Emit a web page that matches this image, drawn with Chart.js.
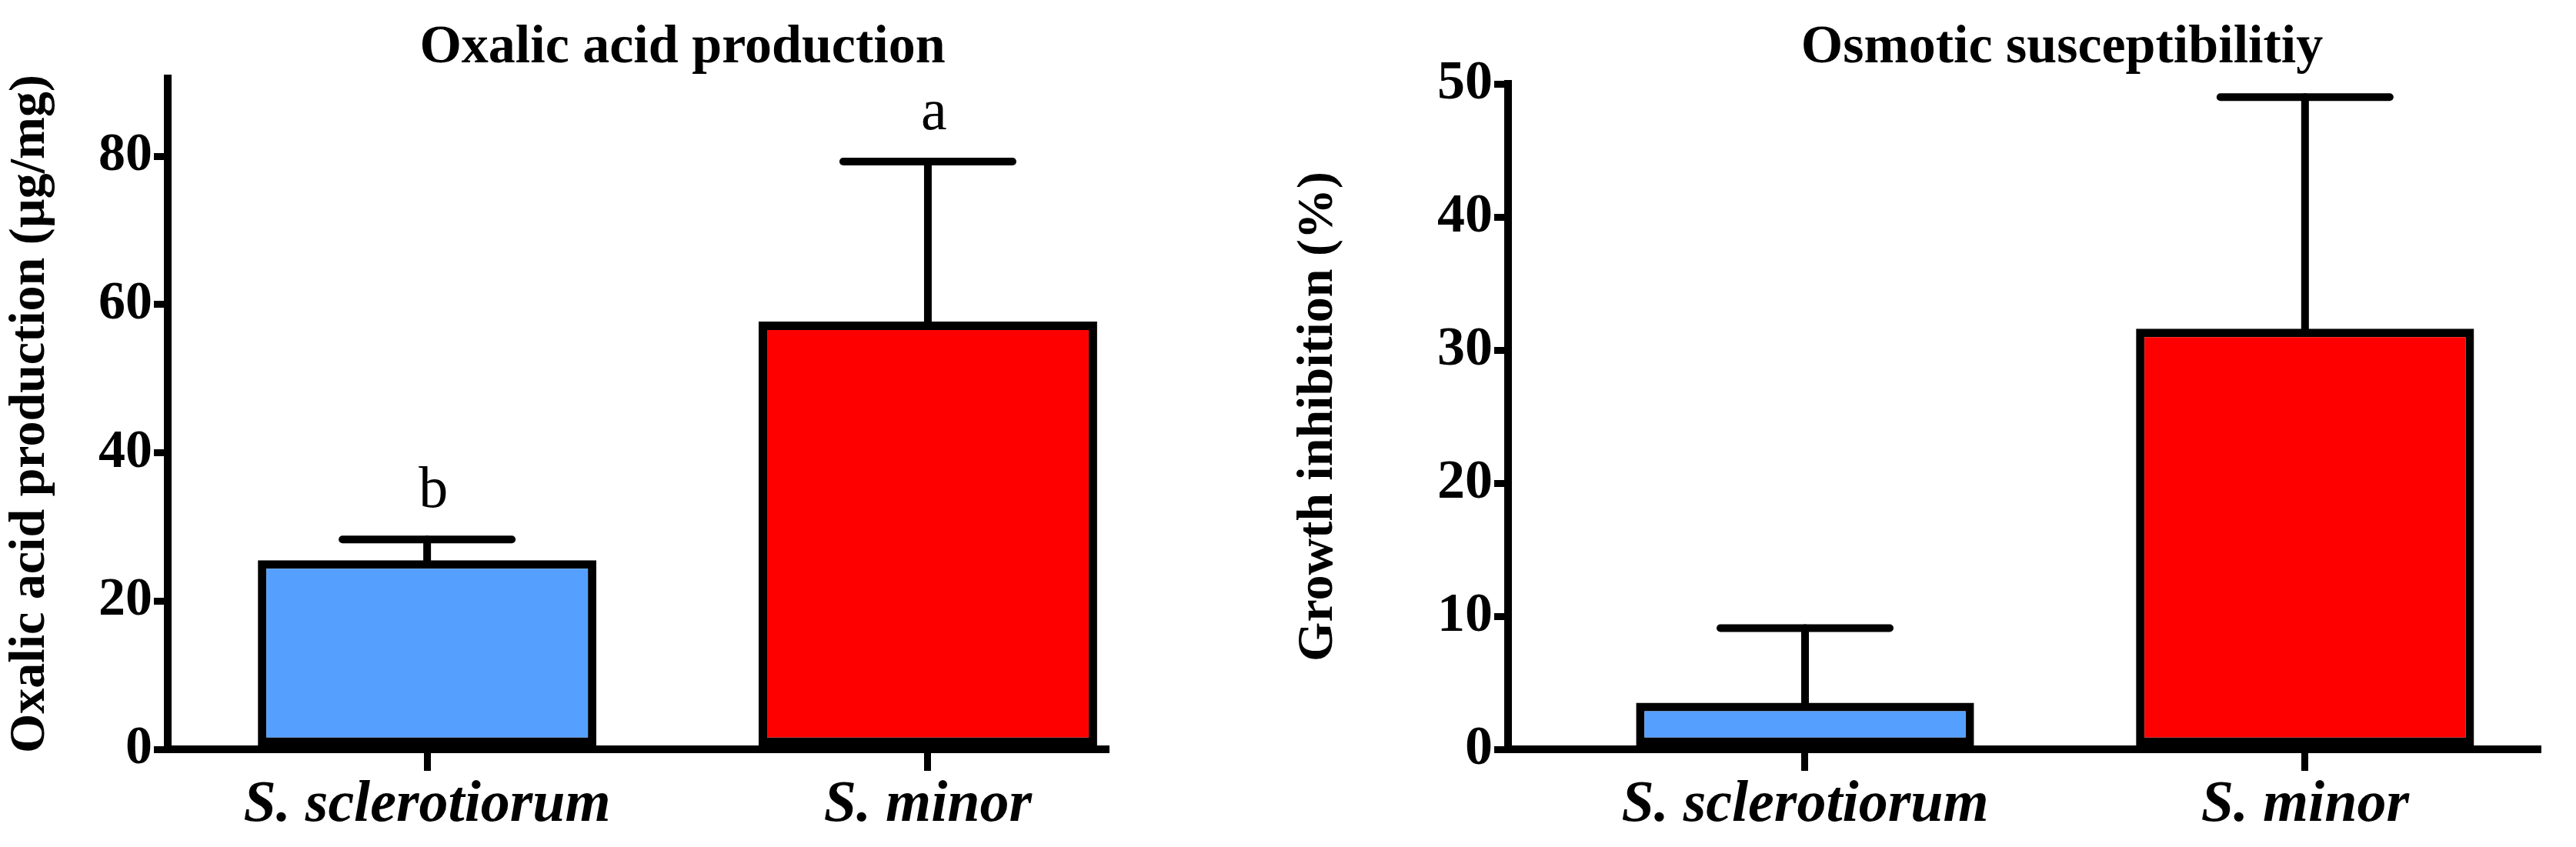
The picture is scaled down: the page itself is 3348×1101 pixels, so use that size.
<!DOCTYPE html>
<html><head><meta charset="utf-8">
<script src="https://cdn.jsdelivr.net/npm/chart.js@4"></script>
<style>
html,body{margin:0;padding:0;background:#fff;width:3348px;height:1101px;overflow:hidden}
.w{position:absolute;top:0;width:1674px;height:1101px}
.t{position:absolute;top:18px;font:bold 70px "Liberation Serif";color:#000;white-space:nowrap;transform:translateX(-50%)}
</style></head><body>
<div class="w" style="left:0"><canvas id="c1" width="1674" height="1101"></canvas></div>
<div class="w" style="left:1674px"><canvas id="c2" width="1674" height="1101"></canvas></div>
<div class="t" style="left:887px">Oxalic acid production</div>
<div class="t" style="left:2680px">Osmotic susceptibilitiy</div>
<script>
const categories=["S. sclerotiorum","S. minor"];
const oxalicMean=[25.5,57.7];
const oxalicErr=[2.8,21.6];
const oxalicLetters=["b","a"];
const oxalicTicks=[0,20,40,60,80];
const osmoMean=[3.5,31.6];
const osmoErr=[5.6,17.4];
const osmoTicks=[0,10,20,30,40,50];
const colors=["#559FFF","#FF0000"];

const errPlugin={id:'err',afterDatasetsDraw(chart){
  const o=chart.options.plugins.err;const ctx=chart.ctx;const meta=chart.getDatasetMeta(0);
  const ys=chart.scales.y;
  ctx.save();ctx.strokeStyle='#000';ctx.lineWidth=10;ctx.lineCap='round';
  meta.data.forEach((b,i)=>{
    const top=ys.getPixelForValue(o.mean[i]+o.err[i]);
    ctx.beginPath();ctx.moveTo(b.x,b.y);ctx.lineTo(b.x,top);ctx.stroke();
    ctx.beginPath();ctx.moveTo(b.x-110,top);ctx.lineTo(b.x+110,top);ctx.stroke();
    if(o.letters){ctx.fillStyle='#000';ctx.font='76px "Liberation Serif"';ctx.textAlign='center';ctx.textBaseline='bottom';
      ctx.fillText(o.letters[i],b.x+8,top-24);}
  });
  ctx.restore();}};

function make(id,mean,err,ticks,ymax,xmin,xmax,left,right,top,tickFont,letters){
  new Chart(document.getElementById(id),{type:'bar',
    data:{datasets:[{data:mean.map((v,i)=>({x:i+1,y:v})),backgroundColor:colors,borderColor:'#000',borderWidth:11,borderSkipped:false,barPercentage:0.676,categoryPercentage:1}]},
    options:{responsive:false,animation:false,devicePixelRatio:1,
      layout:{padding:{left:0,right:right,top:top,bottom:0}},
      plugins:{legend:{display:false},tooltip:{enabled:false},err:{mean:mean,err:err,letters:letters}},
      scales:{
        x:{type:'linear',min:xmin,max:xmax,offset:false,
          afterBuildTicks:s=>{s.ticks=categories.map((c,i)=>({value:i+1}));},
          afterFit:s=>{s.height=127;},
          ticks:{callback:(v)=>categories[v-1]||'',color:'#000',font:{family:'Liberation Sans Narrow',style:'italic',weight:'bold',size:76},padding:0,maxRotation:0,autoSkip:false},
          grid:{offset:false,drawOnChartArea:false,color:'#000',lineWidth:9,tickLength:28},
          border:{color:'#000',width:10}},
        y:{min:0,max:ymax,
          afterBuildTicks:s=>{s.ticks=ticks.map(v=>({value:v}));},
          afterFit:s=>{s.width=left;},
          title:{display:true,text:id==='c1'?'Oxalic acid production (µg/mg)':'Growth inhibition (%)',color:'#000',font:{family:'Liberation Serif',weight:'bold',size:66},padding:{top:0,bottom:id==='c1'?2:24}},
          ticks:{color:'#000',font:tickFont,padding:2},
          grid:{drawOnChartArea:false,color:'#000',lineWidth:9,tickLength:18},
          border:{color:'#000',width:10}}
      }},
    plugins:[errPlugin]});
}
make('c1',oxalicMean,oxalicErr,oxalicTicks,90.5,0.482,2.355,218,237,102,{family:'Liberation Serif',weight:'bold',size:70},oxalicLetters);
make('c2',osmoMean,osmoErr,osmoTicks,50,0.406,2.465,286,50,109,{family:'Liberation Sans Narrow',weight:'bold',size:72},null);
</script></body></html>
